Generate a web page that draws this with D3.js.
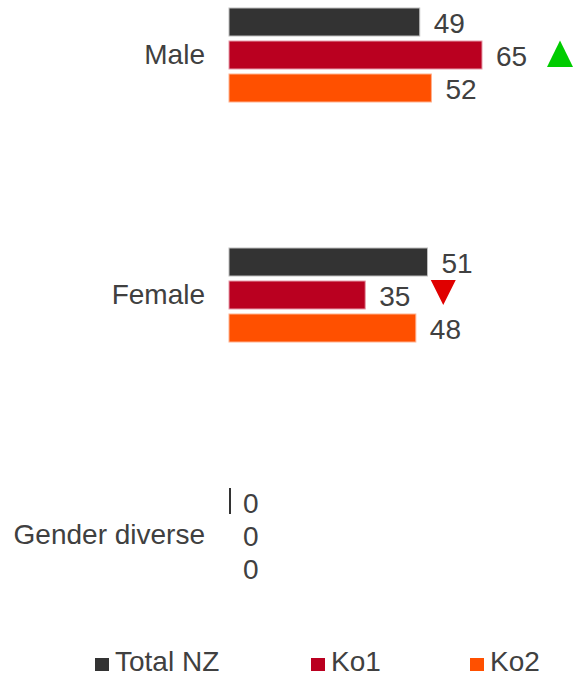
<!DOCTYPE html>
<html>
<head>
<meta charset="utf-8">
<script src="https://cdn.jsdelivr.net/npm/d3@7"></script>
<style>
  html, body { margin: 0; padding: 0; background: #ffffff; }
  svg { display: block; font-family: Arial, "Liberation Sans", sans-serif; }
</style>
</head>
<body>
<svg id="chart" width="573" height="676"></svg>
<script>
// Categories and series
const categories = ["Male", "Female", "Gender diverse"];
const seriesNames = ["Total NZ", "Ko1", "Ko2"];
const seriesColors = ["#333333", "#BA0020", "#FF5000"];
const seriesStrokes = ["#bdbdbd", "#e59aa8", "#ffb18e"];

// Values per series, in category order
const totalNZ = [49, 51, 0];
const ko1 = [65, 35, 0];
const ko2 = [52, 48, 0];

// Significance markers for Ko1: "up", "down" or null
const ko1Markers = ["up", "down", null];

const values = [totalNZ, ko1, ko2];

const svg = d3.select("#chart");
const textColor = "#404040";
const fontSize = 28;

const x = d3.scaleLinear().domain([0, 65]).range([229, 482]);

const y = d3.scaleBand().domain(categories).range([-65, 655]);
const ySub = d3.scaleBand().domain(seriesNames).range([0, 94]).paddingInner(5 / 33);

const rows = [];
categories.forEach((c, ci) => {
  seriesNames.forEach((s, si) => {
    rows.push({ cat: c, ci, series: s, si, value: values[si][ci] });
  });
});

const groupTop = c => y(c) + y.bandwidth() / 2 - 47;
const barY = d => groupTop(d.cat) + ySub(d.series);
const barMid = d => barY(d) + ySub.bandwidth() / 2;

// Bars
svg.append("g").selectAll("rect")
  .data(rows.filter(d => d.value > 0))
  .join("rect")
  .attr("x", x(0))
  .attr("y", barY)
  .attr("width", d => x(d.value) - x(0))
  .attr("height", ySub.bandwidth())
  .attr("fill", d => seriesColors[d.si])
  .attr("stroke", d => seriesStrokes[d.si])
  .attr("stroke-width", 1);

// Zero-valued Total NZ bars show as a thin edge line
svg.append("g").selectAll("line")
  .data(rows.filter(d => d.value === 0 && d.si === 0))
  .join("line")
  .attr("x1", d => x(d.value) + 1)
  .attr("x2", d => x(d.value) + 1)
  .attr("y1", barY)
  .attr("y2", d => barY(d) + ySub.bandwidth() - 2)
  .attr("stroke", d => seriesColors[d.si])
  .attr("stroke-width", 2);

// Value labels
svg.append("g").selectAll("text")
  .data(rows)
  .join("text")
  .attr("x", d => x(d.value) + 14)
  .attr("y", barMid)
  .attr("dy", "0.4em")
  .attr("font-size", fontSize)
  .attr("fill", textColor)
  .text(d => d3.format("d")(d.value));

// Category axis
const axis = svg.append("g")
  .attr("transform", "translate(205,0)")
  .call(d3.axisLeft(y).tickSize(0).tickPadding(0));
axis.select(".domain").remove();
axis.selectAll("text")
  .attr("font-size", fontSize)
  .attr("font-family", "Arial, 'Liberation Sans', sans-serif")
  .attr("fill", textColor);

// Up/down markers next to Ko1 labels
const markerRows = rows.filter(d => d.si === 1 && ko1Markers[d.ci]);
svg.append("g").selectAll("path")
  .data(markerRows)
  .join("path")
  .attr("transform", d => `translate(${x(d.value) + 78},${barMid(d)})`)
  .attr("d", d => ko1Markers[d.ci] === "up"
    ? "M0,-14.5L13,12L-13,12Z"
    : "M-12.5,-15L12.5,-15L0,10Z")
  .attr("fill", d => ko1Markers[d.ci] === "up" ? "#00CC00" : "#E00000");

// Legend
const legendX = [95, 311, 470];
const legend = svg.append("g").selectAll("g")
  .data(seriesNames)
  .join("g")
  .attr("transform", (d, i) => `translate(${legendX[i]},671)`);
legend.append("rect")
  .attr("x", 0).attr("y", -13)
  .attr("width", 14).attr("height", 13)
  .attr("fill", (d, i) => seriesColors[i]);
legend.append("text")
  .attr("x", 20).attr("y", 0)
  .attr("font-size", fontSize)
  .attr("fill", textColor)
  .text(d => d);
</script>
</body>
</html>
